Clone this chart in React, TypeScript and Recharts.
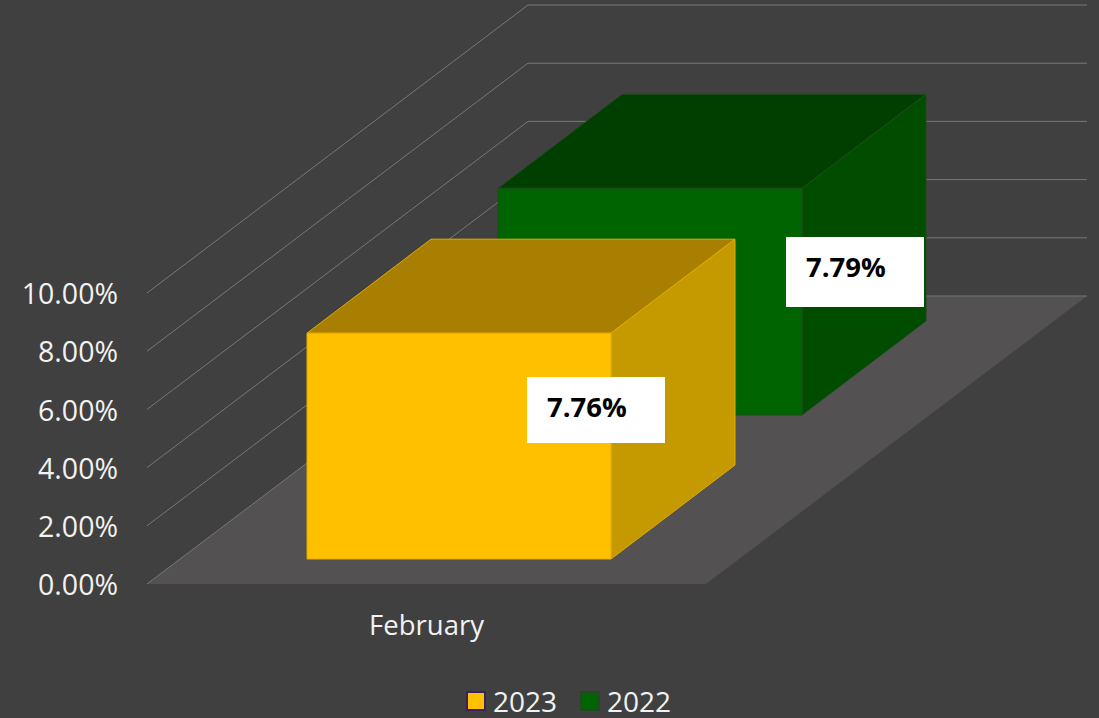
import React from 'react';
import { BarChart, Bar, XAxis, YAxis, CartesianGrid, Legend, LabelList } from 'recharts';

const categories = ['February'];
const values2023 = [7.76];
const values2022 = [7.79];
const yTicks = [0, 2, 4, 6, 8, 10];

const chartData = categories.map((name, i) => ({
  name,
  '2023': values2023[i],
  '2022': values2022[i],
}));

const WIDTH = 1099;
const HEIGHT = 718;
const FONT = '"Open Sans", sans-serif';

// floor goes back this far on screen
const WALL_DX = 381;
const WALL_DY = 288;
const FLOOR_WIDTH = 559;
const BAR_DEPTH_DX = 124;
const BAR_DEPTH_DY = 94;

const YELLOW = { front: '#ffc000', top: '#a87f00', side: '#c59900', edge: '#e0ac00', legendEdge: '#3d2060' };
const GREEN = { front: '#006400', top: '#003f00', side: '#004d00', edge: '#1f4a1f', legendEdge: '#274527' };

// 3D box: the flat bar from recharts, pushed back over the floor
const boxShape = (shiftX: number, lift: number, c: typeof YELLOW) => (props: any) => {
  const x = props.x + shiftX;
  const y = props.y - lift;
  const { width: w, height: h } = props;
  const dx = BAR_DEPTH_DX;
  const dy = BAR_DEPTH_DY;
  return (
    <g stroke={c.edge} strokeWidth={1} strokeLinejoin="round">
      <polygon fill={c.top} points={`${x},${y} ${x + dx},${y - dy} ${x + w + dx},${y - dy} ${x + w},${y}`} />
      <polygon fill={c.side} points={`${x + w},${y} ${x + w + dx},${y - dy} ${x + w + dx},${y + h - dy} ${x + w},${y + h}`} />
      <rect x={x} y={y} width={w} height={h} fill={c.front} />
    </g>
  );
};

const dataLabel = (shiftX: number, lift: number, offX: number, offY: number, boxH: number) => (props: any) => {
  const rx = Math.round(props.x + shiftX + offX);
  const ry = Math.round(props.y - lift + offY);
  return (
    <g>
      <rect x={rx} y={ry} width={138} height={boxH} fill="#ffffff" />
      <text x={rx + 20} y={ry + 40} fill="#000000" fontFamily={FONT} fontWeight={700} fontSize={27.5}>
        {`${Number(props.value).toFixed(2)}%`}
      </text>
    </g>
  );
};

// side wall and back wall lines for one tick, plus the floor at zero
const wallLine = (props: any) => {
  const { x1, y1 } = props;
  const bx = x1 + WALL_DX;
  const by = y1 - WALL_DY;
  const isFloor = Math.abs(y1 - 584) < 1;
  return (
    <g key={`wall-${y1}`}>
      {isFloor && (
        <polygon
          fill="#535151"
          points={`${x1},${y1} ${x1 + FLOOR_WIDTH},${y1} ${bx + FLOOR_WIDTH},${by} ${bx},${by}`}
        />
      )}
      <polyline
        fill="none"
        stroke="#777777"
        strokeWidth={1}
        points={`${x1},${y1} ${bx},${by} ${bx + FLOOR_WIDTH},${by}`}
      />
    </g>
  );
};

const LegendBox = ({ payload }: any) => {
  const items = [...(payload || [])].sort((a: any, b: any) => Number(b.value) - Number(a.value));
  return (
    <div style={{ display: 'flex', alignItems: 'center', fontFamily: FONT, fontSize: 28, color: '#f2f2f2', lineHeight: '30px' }}>
      {items.map((it: any) => {
        const c = it.value === '2023' ? YELLOW : GREEN;
        return (
          <div key={it.value} style={{ display: 'flex', alignItems: 'center', marginRight: 23 }}>
            <span
              style={{
                width: 16,
                height: 16,
                background: c.front,
                border: `2px solid ${c.legendEdge}`,
                marginRight: 7,
                display: 'inline-block',
              }}
            />
            {it.value}
          </div>
        );
      })}
    </div>
  );
};

export default function App() {
  return (
    <div style={{ position: 'absolute', left: 0, top: 0, width: WIDTH, height: HEIGHT, background: '#404040', overflow: 'hidden' }}>
      <BarChart
        width={WIDTH}
        height={HEIGHT}
        data={chartData}
        margin={{ top: 293, right: 393, bottom: 44, left: 17 }}
        barSize={304}
        barGap={-304}
      >
        <CartesianGrid vertical={false} horizontal={wallLine} />
        <XAxis
          dataKey="name"
          height={60}
          axisLine={false}
          tickLine={false}
          tickMargin={25}
          tick={{ fill: '#f2f2f2', fontSize: 27.5, fontFamily: FONT }}
        />
        <YAxis
          width={130}
          domain={[0, 10]}
          ticks={yTicks}
          interval={0}
          axisLine={false}
          tickLine={false}
          tickMargin={23}
          tickFormatter={(v: number) => `${v.toFixed(2)}%`}
          tick={{ fill: '#f2f2f2', fontSize: 28.5, fontFamily: FONT, dy: 1 }}
        />
        <Legend
          content={<LegendBox />}
          wrapperStyle={{ left: 466, top: 686, width: 240, height: 30 }}
        />
        <Bar dataKey="2022" isAnimationActive={false} shape={boxShape(223, 169, GREEN)}>
          <LabelList dataKey="2022" content={dataLabel(223, 169, 287.5, 49, 70)} />
        </Bar>
        <Bar dataKey="2023" isAnimationActive={false} shape={boxShape(32, 25, YELLOW)}>
          <LabelList dataKey="2023" content={dataLabel(32, 25, 219.5, 44, 66)} />
        </Bar>
      </BarChart>
    </div>
  );
}
